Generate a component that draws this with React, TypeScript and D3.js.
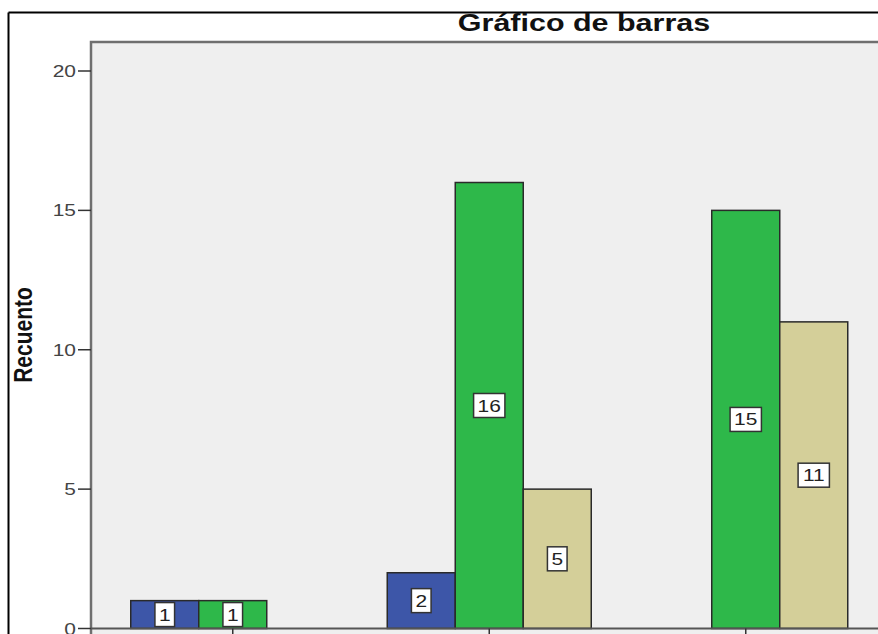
import React from 'react';
import * as d3 from 'd3';

// Gráfico de barras agrupadas (estilo SPSS), recuentos por categoría
const categorias = ['Categoría 1', 'Categoría 2', 'Categoría 3'];
const serieAzul = [1, 2, 0];
const serieVerde = [1, 16, 15];
const serieCaqui = [0, 5, 11];
const ticksY = [0, 5, 10, 15, 20];

const series = [serieAzul, serieVerde, serieCaqui];
const colores = ['#3d56a8', '#2eb84a', '#d4cf99'];

const W = 878;
const H = 634;
const SX = 1.27; // the source image is stretched horizontally
const FONT = '"Liberation Sans", Arial, sans-serif';

const App = () => {
    const plot = {left: 91, top: 42, bottom: 628.5, right: W + 4};
    const barWidth = 68;

    const xScale = d3.scaleBand()
        .domain(categorias)
        .range([104.5, 874])
        .padding(0);

    // sub-band for the series inside a cluster
    const xSub = d3.scaleBand()
        .domain(series.map((s, k) => String(k)))
        .range([-1.5 * barWidth, 1.5 * barWidth])
        .padding(0);

    const yScale = d3.scaleLinear()
        .domain([0, 20])
        .range([plot.bottom, 71]);

    const center = (c) => xScale(c) + xScale.bandwidth() / 2;

    // empty bars are simply not drawn, the others keep their slot
    const bars = [];
    categorias.forEach((c, i) => {
        series.forEach((s, k) => {
            if (s[i] <= 0) return;
            bars.push({
                key: `${i}-${k}`,
                x: center(c) + xSub(String(k)),
                y: yScale(s[i]),
                h: yScale(0) - yScale(s[i]),
                v: s[i],
                color: colores[k],
            });
        });
    });

    const labelFont = 16.5;
    const digitW = 0.556 * labelFont * SX;

    return (
        <svg width={W} height={H} style={{position: 'absolute', left: 0, top: 0, background: '#fff'}}>
            {/* outer frame */}
            <line x1={8.5} x2={W + 5} y1={12.5} y2={12.5} stroke="#000" strokeWidth={2}/>
            <line x1={8.5} x2={8.5} y1={12.5} y2={H + 5} stroke="#000" strokeWidth={2}/>

            {/* title */}
            <text transform={`translate(584, 31) scale(${SX}, 1)`} textAnchor="middle"
                  fontFamily={FONT} fontWeight="bold" fontSize={24} fill="#111">
                Gráfico de barras
            </text>

            {/* plot background */}
            <rect x={plot.left} y={plot.top} width={plot.right - plot.left} height={plot.bottom - plot.top + 10}
                  fill="#efefef" stroke="#6f6f6f" strokeWidth={2.5}/>

            {/* y axis ticks */}
            {ticksY.map((t) => (
                <g key={t}>
                    <line x1={78} x2={plot.left} y1={yScale(t)} y2={yScale(t)} stroke="#333" strokeWidth={1.5}/>
                    <text transform={`translate(76, ${yScale(t) + 6}) scale(${SX}, 1)`} textAnchor="end"
                          fontFamily={FONT} fontSize={16.5} fill="#444">{t}</text>
                </g>
            ))}

            {/* y axis label */}
            <text transform={`translate(32, 335) scale(${SX}, 1) rotate(-90)`} textAnchor="middle"
                  fontFamily={FONT} fontWeight="bold" fontSize={21} fill="#111">
                Recuento
            </text>

            {/* bars */}
            {bars.map((b) => (
                <rect key={b.key} x={b.x} y={b.y} width={barWidth} height={b.h}
                      fill={b.color} stroke="#2a2a2a" strokeWidth={1.5}/>
            ))}

            {/* x axis line and ticks */}
            <line x1={plot.left} x2={plot.right} y1={plot.bottom} y2={plot.bottom} stroke="#555" strokeWidth={2}/>
            {categorias.map((c) => (
                <line key={c} x1={center(c)} x2={center(c)} y1={plot.bottom} y2={H + 2} stroke="#333" strokeWidth={1.5}/>
            ))}

            {/* value labels */}
            {bars.map((b) => {
                const txt = String(b.v);
                const bw = txt.length * digitW + 8;
                const cx = b.x + barWidth / 2;
                const cy = b.y + b.h / 2;
                return (
                    <g key={'l' + b.key}>
                        <rect x={cx - bw / 2} y={cy - 12} width={bw} height={24}
                              fill="#fff" stroke="#333" strokeWidth={1.5}/>
                        <text transform={`translate(${cx}, ${cy + 6}) scale(${SX}, 1)`} textAnchor="middle"
                              fontFamily={FONT} fontSize={labelFont} fill="#222">{txt}</text>
                    </g>
                );
            })}
        </svg>
    );
};

export default App;
